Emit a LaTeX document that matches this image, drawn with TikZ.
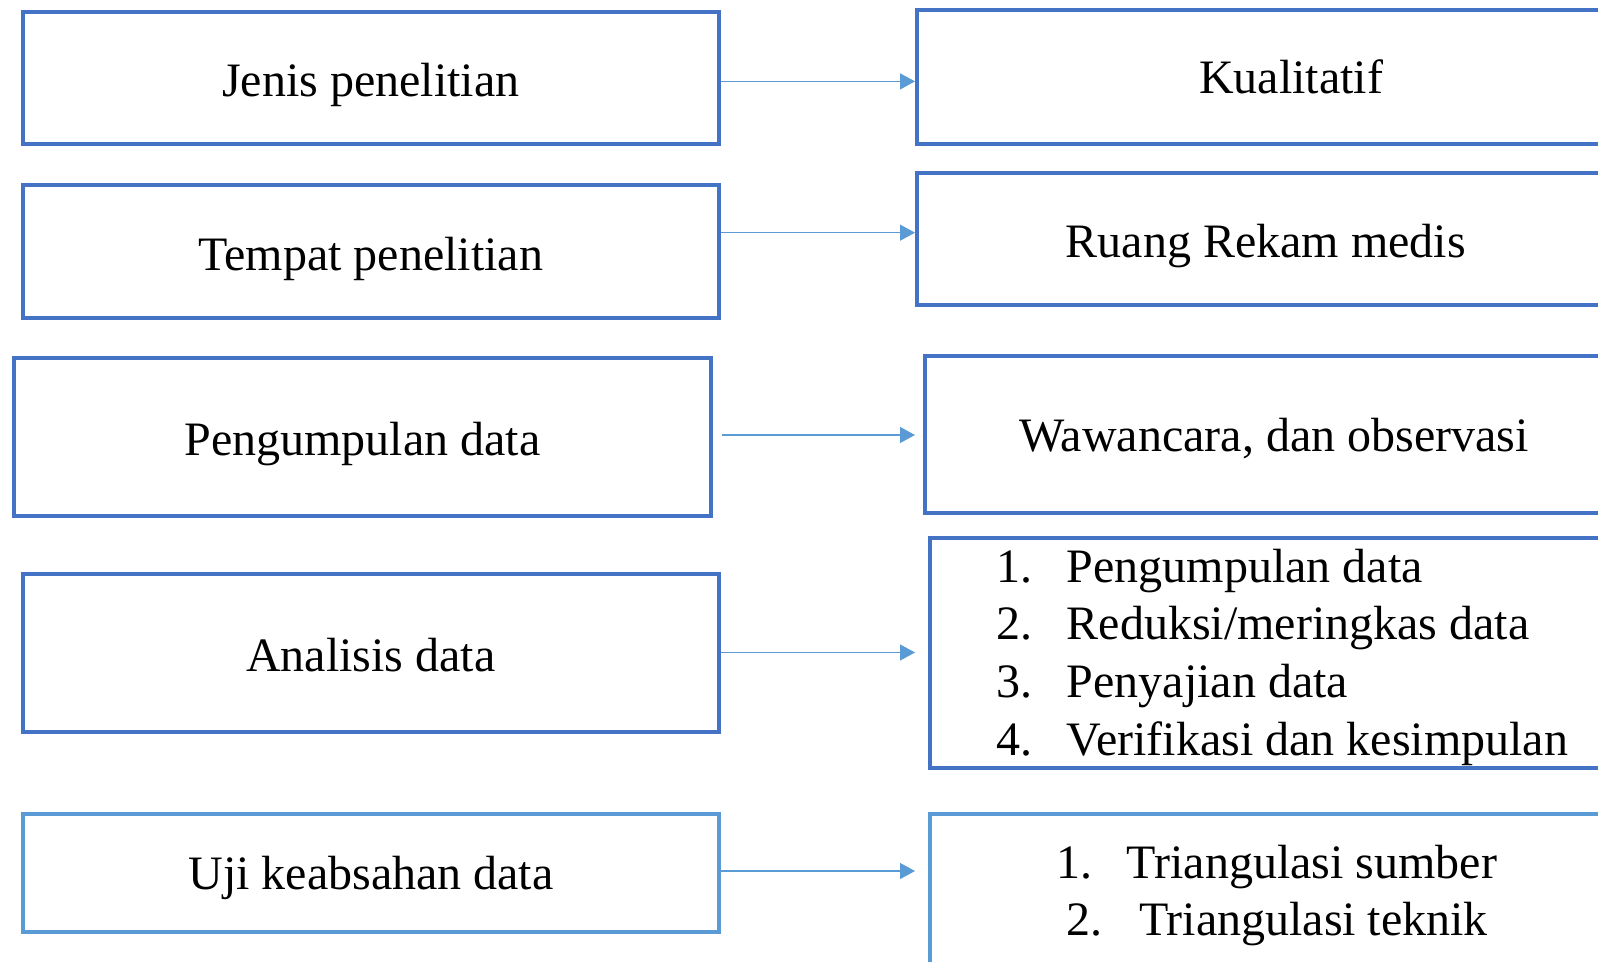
\documentclass[tikz,border=0pt]{standalone}
\usepackage{fontspec}
\setmainfont{Liberation Serif}
\usetikzlibrary{arrows.meta}
\definecolor{boxblue}{HTML}{4472C4}
\definecolor{lineblue}{HTML}{5B9BD5}

\begin{document}
\begin{tikzpicture}[x=0.5pt,y=-0.5pt,
    box/.style={draw=boxblue,line width=2pt,inner sep=0pt,anchor=north west,
      font=\fontsize{24}{28.9}\selectfont,text height=24pt,text depth=5pt},
    lbox/.style={box,draw=lineblue},
    arr/.style={draw=lineblue,line width=0.65pt,-{Triangle[length=7.5pt,width=8pt]}}]
    \clip (0,0) rectangle (1598,962);

    \node[box,minimum width=348.3pt,minimum height=66pt] (jenis) at (20.5,10) {Jenis penelitian};
    \node[box,minimum width=348.3pt,minimum height=66.4pt] (tempat) at (20.5,183.3) {Tempat penelitian};
    \node[box,minimum width=348.5pt,minimum height=79pt] (kumpul) at (12,355.5) {Pengumpulan data};
    \node[box,minimum width=348.3pt,minimum height=79pt] (analisis) at (20.5,571.5) {Analisis data};
    \node[lbox,minimum width=348pt,minimum height=59pt,text depth=8pt] (uji) at (21,812) {Uji keabsahan data};

    \node[box,minimum width=374pt,minimum height=66.7pt,text depth=7pt] (kual) at (915,8.3) {Kualitatif};
    \node[box,minimum width=348.7pt,minimum height=66pt] (ruang) at (915,170.7) {Ruang Rekam medis};
    \node[box,minimum width=349pt,minimum height=78.5pt,text depth=7pt] (wawan) at (923,353.5) {Wawancara, dan observasi};
    \node[box,minimum width=353pt,minimum height=115pt,text height=20pt,text depth=91pt] (tahap) at (927.5,536)
      {\begin{tabular}[t]{@{}l@{}}
       \makebox[35pt][l]{1.}Pengumpulan data\\
       \makebox[35pt][l]{2.}Reduksi/meringkas data\\
       \makebox[35pt][l]{3.}Penyajian data\\
       \makebox[35pt][l]{4.}Verifikasi dan kesimpulan
       \end{tabular}};
    \node[lbox,minimum width=347.5pt,minimum height=79.5pt,text height=20pt,text depth=35.5pt] (trian) at (927.5,812)
      {\begin{tabular}[t]{@{}c@{}}
       \makebox[35pt][l]{1.}Triangulasi sumber\\
       \makebox[36.5pt][l]{2.}Triangulasi teknik
       \end{tabular}};

    \draw[arr] ([yshift=-1.7pt]jenis.east) -- ([yshift=-1.7pt]jenis.east -| kual.west);
    \draw[arr] ([yshift=9.5pt]tempat.east) -- ([yshift=9.5pt]tempat.east -| ruang.west);
    \draw[arr] ([xshift=4.25pt,yshift=0.75pt]kumpul.east) -- ([xshift=-4pt,yshift=0.75pt]kumpul.east -| wawan.west);
    \draw[arr] (analisis.east) -- ([xshift=-6.25pt]analisis.east -| tahap.west);
    \draw[arr] ([yshift=1pt]uji.east) -- ([xshift=-6.25pt,yshift=1pt]uji.east -| trian.west);
  \end{tikzpicture}
\end{document}
